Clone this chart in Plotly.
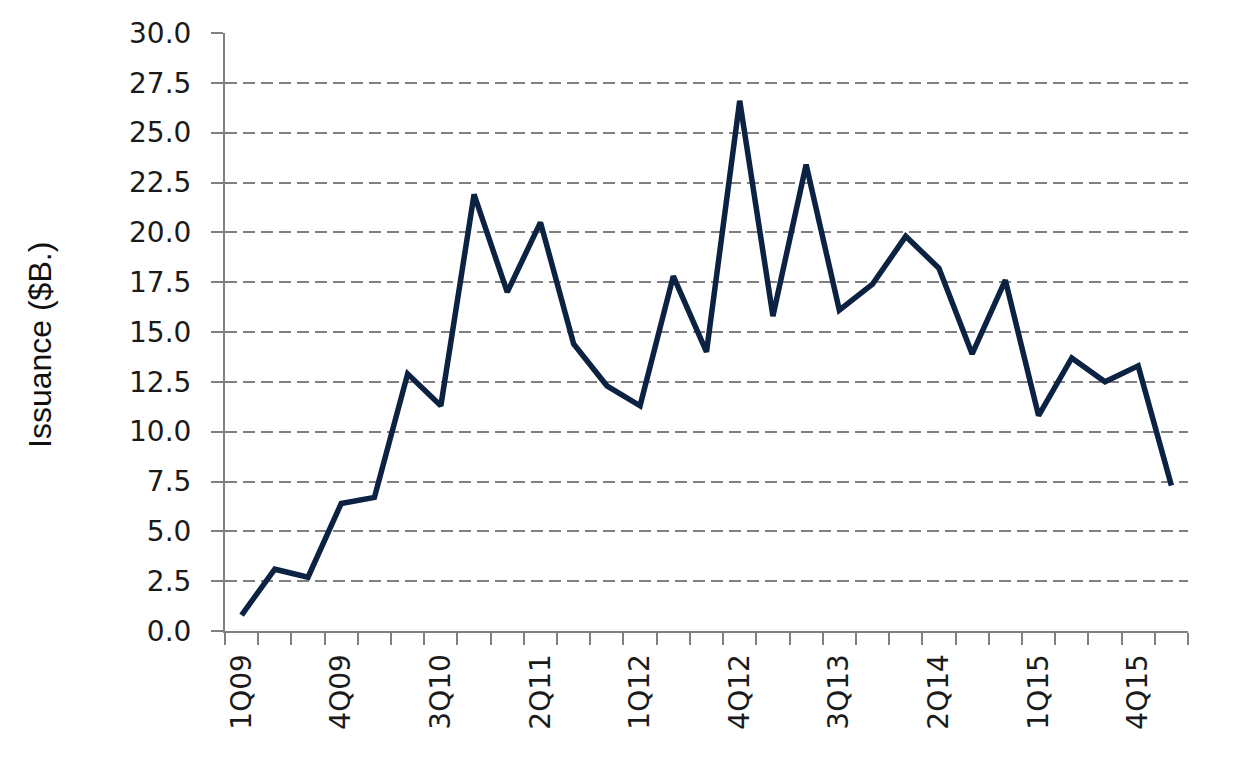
import plotly.graph_objects as go

quarters = ["1Q09", "2Q09", "3Q09", "4Q09", "1Q10", "2Q10", "3Q10", "4Q10",
            "1Q11", "2Q11", "3Q11", "4Q11", "1Q12", "2Q12", "3Q12", "4Q12",
            "1Q13", "2Q13", "3Q13", "4Q13", "1Q14", "2Q14", "3Q14", "4Q14",
            "1Q15", "2Q15", "3Q15", "4Q15", "1Q16"]
issuance = [0.8, 3.1, 2.7, 6.4, 6.7, 12.9, 11.3, 21.9,
            17.0, 20.5, 14.4, 12.3, 11.3, 17.8, 14.0, 26.6,
            15.8, 23.4, 16.1, 17.4, 19.8, 18.2, 13.9, 17.6,
            10.8, 13.7, 12.5, 13.3, 7.3]
y_ticks = [0, 2.5, 5, 7.5, 10, 12.5, 15, 17.5, 20, 22.5, 25, 27.5, 30]

idx = list(range(len(quarters)))
label_idx = idx[::3]

TICK_FONT = "DejaVu Sans"
TITLE_FONT = "Liberation Sans"
TXT = "#1a1a1a"
GRAY = "#808080"

fig = go.Figure()
fig.add_trace(go.Scatter(
    x=idx, y=issuance, mode="lines",
    line=dict(color="#0b2243", width=5.5, shape="linear"),
    showlegend=False, hoverinfo="skip",
))

# plot area (page coords) x 225-1188, y 33-631; body margin offsets by 8px
fig.update_layout(
    width=1219, height=751,
    margin=dict(l=217, r=39, t=25, b=128, autoexpand=False),
    paper_bgcolor="white", plot_bgcolor="white",
    font=dict(family=TICK_FONT, color=TXT, size=28),
    annotations=[dict(
        text="Issuance ($B.)", textangle=-90,
        xref="paper", yref="paper", x=(32 - 217) / 963, y=(623 - 337) / 598,
        showarrow=False, font=dict(family=TITLE_FONT, size=32, color="#111111"),
        xanchor="center", yanchor="middle",
    )],
)

fig.update_xaxes(
    range=[-0.5, len(quarters) - 0.5],
    tickmode="array", tickvals=label_idx,
    ticktext=[quarters[i] for i in label_idx],
    tickangle=-90, ticks="", showgrid=False, zeroline=False,
    showline=True, linecolor=GRAY, linewidth=2,
    tickfont=dict(family=TICK_FONT, size=28, color=TXT),
    ticklabelstandoff=10,
    minor=dict(tick0=-0.5, dtick=1, ticks="outside", ticklen=12,
               tickwidth=2, tickcolor=GRAY, showgrid=False),
)

fig.update_yaxes(
    range=[0, 30], tickmode="array", tickvals=y_ticks,
    ticktext=[f"{v:.1f}" for v in y_ticks],
    ticks="outside", ticklen=12, tickwidth=2, tickcolor=GRAY,
    showline=True, linecolor=GRAY, linewidth=2,
    showgrid=True, gridcolor=GRAY, gridwidth=2, griddash="12px,6px",
    zeroline=False,
    tickfont=dict(family=TICK_FONT, size=28, color=TXT),
    ticklabelstandoff=14,
)

fig.write_html("out.html")
